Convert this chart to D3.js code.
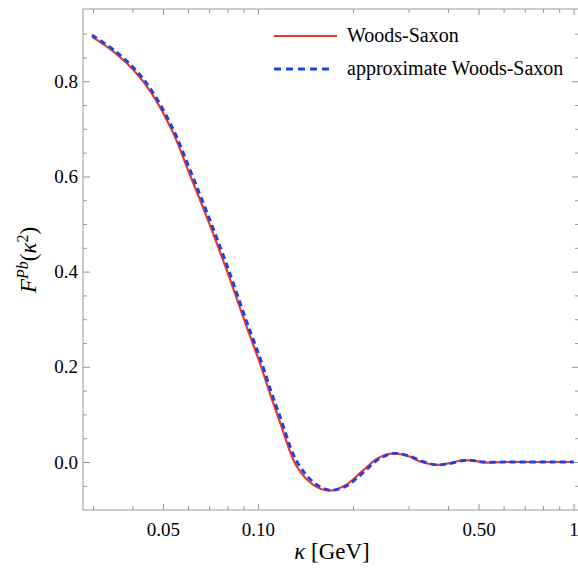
<!DOCTYPE html>
<html>
<head>
<meta charset="utf-8">
<script src="https://cdn.jsdelivr.net/npm/d3@7"></script>
</head>
<body style="margin:0">
<svg id="chart" width="578" height="576"></svg>
<script>
// kappa in GeV
var kappa = [0.0298, 0.0352, 0.0408, 0.046, 0.0538, 0.0609, 0.0688, 0.0796, 0.0921, 0.1015,
             0.1105, 0.1174, 0.1326, 0.1497, 0.1691, 0.19, 0.2157, 0.24, 0.2684, 0.30,
             0.33, 0.368, 0.40, 0.447, 0.48, 0.52, 0.6, 0.7, 0.85, 1.0];

var woodsSaxon = [0.893, 0.860, 0.820, 0.775, 0.692, 0.603, 0.515, 0.403, 0.284, 0.207,
                  0.133, 0.084, -0.009, -0.048, -0.060, -0.048, -0.017, 0.008, 0.018, 0.012,
                  0.000, -0.006, -0.003, 0.004, 0.003, -0.001, 0.000, 0.000, 0.000, 0.000];

var approxWoodsSaxon = [0.897, 0.864, 0.825, 0.781, 0.700, 0.614, 0.526, 0.415, 0.295, 0.219,
                        0.145, 0.096, 0.002, -0.042, -0.059, -0.051, -0.022, 0.005, 0.018, 0.013,
                        0.002, -0.006, -0.004, 0.003, 0.003, 0.000, 0.000, 0.000, 0.000, 0.000];

var xMajor = [0.05, 0.1, 0.5, 1];
var xMajorLabels = ["0.05", "0.10", "0.50", "1"];
var xMinor = [0.03, 0.04, 0.06, 0.07, 0.08, 0.09, 0.2, 0.3, 0.4, 0.6, 0.7, 0.8, 0.9];
var yMajor = [0.0, 0.2, 0.4, 0.6, 0.8];
var yMinor = [-0.05, 0.05, 0.1, 0.15, 0.25, 0.3, 0.35, 0.45, 0.5, 0.55, 0.65, 0.7, 0.75, 0.85, 0.9];

var margin = { left: 83, right: 579, top: 9, bottom: 510 };
var svg = d3.select("#chart");

var x = d3.scaleLog().domain([0.0279, 1.04]).range([margin.left, margin.right]);
var y = d3.scaleLinear().domain([-0.1008, 0.9517]).range([margin.bottom, margin.top]);

var axisColor = "#999";

// frame
svg.append("rect")
    .attr("x", margin.left).attr("y", margin.top)
    .attr("width", margin.right - margin.left).attr("height", margin.bottom - margin.top)
    .attr("fill", "none").attr("stroke", axisColor).attr("stroke-width", 1);

function ticks(g) {
    g.selectAll(".domain").remove();
    g.selectAll("line").attr("stroke", axisColor);
    g.selectAll("text").attr("fill", "#000").attr("font-size", 19);
}

svg.append("g").attr("transform", "translate(0," + margin.bottom + ")")
    .call(d3.axisBottom(x).tickValues(xMinor).tickSize(-4).tickFormat("")).call(ticks);
svg.append("g").attr("transform", "translate(0," + margin.bottom + ")")
    .call(d3.axisBottom(x).tickValues(xMajor).tickSize(-6).tickPadding(13)
        .tickFormat(function (d, i) { return xMajorLabels[i]; })).call(ticks);
svg.append("g").attr("transform", "translate(0," + margin.top + ")")
    .call(d3.axisTop(x).tickValues(xMinor).tickSize(-4).tickFormat("")).call(ticks);
svg.append("g").attr("transform", "translate(0," + margin.top + ")")
    .call(d3.axisTop(x).tickValues(xMajor).tickSize(-6).tickFormat("")).call(ticks);

svg.append("g").attr("transform", "translate(" + margin.left + ",0)")
    .call(d3.axisLeft(y).tickValues(yMinor).tickSize(-4).tickFormat("")).call(ticks);
svg.append("g").attr("transform", "translate(" + margin.left + ",0)")
    .call(d3.axisLeft(y).tickValues(yMajor).tickSize(-7).tickPadding(5).tickFormat(d3.format(".1f"))).call(ticks);
svg.append("g").attr("transform", "translate(" + margin.right + ",0)")
    .call(d3.axisRight(y).tickValues(yMinor).tickSize(-4).tickFormat("")).call(ticks);
svg.append("g").attr("transform", "translate(" + margin.right + ",0)")
    .call(d3.axisRight(y).tickValues(yMajor).tickSize(-7).tickFormat("")).call(ticks);

// curves
var line = d3.line()
    .x(function (d) { return x(d[0]); })
    .y(function (d) { return y(d[1]); })
    .curve(d3.curveCatmullRom.alpha(0.5));

svg.append("path")
    .datum(d3.zip(kappa, woodsSaxon))
    .attr("d", line)
    .attr("fill", "none").attr("stroke", "#e53b2f").attr("stroke-width", 2.2);

svg.append("path")
    .datum(d3.zip(kappa, approxWoodsSaxon))
    .attr("d", line)
    .attr("fill", "none").attr("stroke", "#1f3fe6").attr("stroke-width", 2.8)
    .attr("stroke-dasharray", "6,4");

// legend
var legend = svg.append("g");
legend.append("line").attr("x1", 274).attr("x2", 337).attr("y1", 36).attr("y2", 36)
    .attr("stroke", "#e53b2f").attr("stroke-width", 2.2);
legend.append("text").attr("x", 347).attr("y", 42).attr("font-size", 20)
    .text("Woods-Saxon");
legend.append("line").attr("x1", 274).attr("x2", 334).attr("y1", 69).attr("y2", 69)
    .attr("stroke", "#1f3fe6").attr("stroke-width", 2.8).attr("stroke-dasharray", "7,5");
legend.append("text").attr("x", 347).attr("y", 75).attr("font-size", 20)
    .text("approximate Woods-Saxon");

// axis labels
var xl = svg.append("text").attr("x", 332).attr("y", 559).attr("text-anchor", "middle")
    .attr("font-size", 23);
xl.append("tspan").attr("font-style", "italic").text("κ");
xl.append("tspan").text(" [GeV]");

var yl = svg.append("text").attr("transform", "translate(36,260) rotate(-90)")
    .attr("text-anchor", "middle").attr("font-size", 23);
yl.append("tspan").attr("font-style", "italic").text("F");
yl.append("tspan").attr("font-style", "italic").attr("font-size", 16).attr("dy", "-8").text("Pb");
yl.append("tspan").attr("dy", "8").text("(");
yl.append("tspan").attr("font-style", "italic").text("κ");
yl.append("tspan").attr("font-size", 16).attr("dy", "-8").text("2");
yl.append("tspan").attr("dy", "8").text(")");

// one serif face for every label
svg.selectAll("g").attr("font-family", null);
svg.selectAll("text, tspan").attr("font-family", "Liberation Serif").style("font-family", "\"Liberation Serif\"");
</script>
</body>
</html>
